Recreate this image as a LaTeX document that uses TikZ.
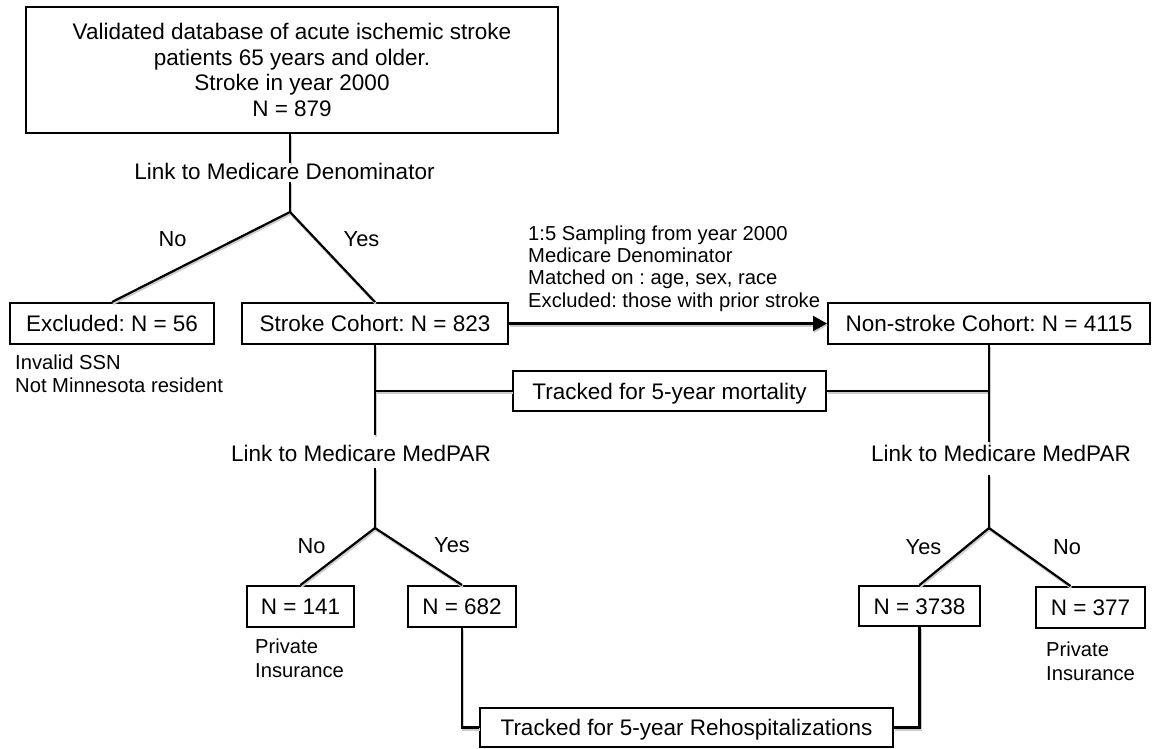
\documentclass[tikz,border=0pt]{standalone}
\usepackage{fontspec}
\setmainfont{Liberation Sans}
\usetikzlibrary{arrows.meta}
\frenchspacing
\begin{document}
\begin{tikzpicture}[x=1pt,y=-1pt,
  box/.style={draw, line width=2pt, inner sep=0pt, font=\fontsize{22.5}{25.7}\selectfont, align=center},
  sbox/.style={box, text height=16pt, text depth=0pt},
  lbl/.style={inner sep=0pt, font=\fontsize{22.5}{25.7}\selectfont},
  yn/.style={inner sep=0pt, font=\fontsize{21.8}{24}\selectfont},
  note/.style={inner sep=0pt, anchor=west, align=left},
  conn/.style={line width=2.2pt, preaction={draw=black!20, line width=2.4pt, transform canvas={shift={(0.8pt,-1.8pt)}}}},
]
\useasboundingbox (0,0) rectangle (1152,749);

% boxes
\node[box, minimum width=532pt, minimum height=126pt] (top) at (292,70)
  {Validated database of acute ischemic stroke\\patients 65 years and older.\\Stroke in year 2000\\N = 879};
\node[sbox, minimum width=204pt, minimum height=41pt] (exc) at (112,323.5) {Excluded: N = 56};
\node[sbox, minimum width=266pt, minimum height=41pt] (stroke) at (375,323.5) {Stroke Cohort: N = 823};
\node[sbox, minimum width=322pt, minimum height=41pt] (nonstroke) at (989,323.5) {Non-stroke Cohort: N = 4115};
\node[sbox, minimum width=313pt, minimum height=40pt] (mort) at (669.5,391) {Tracked for 5-year mortality};
\node[sbox, minimum width=107pt, minimum height=41pt] (n141) at (300.5,606.5) {N = 141};
\node[sbox, minimum width=108pt, minimum height=41pt] (n682) at (462,606.5) {N = 682};
\node[sbox, minimum width=121pt, minimum height=40pt] (n3738) at (919.5,606) {N = 3738};
\node[sbox, minimum width=109pt, minimum height=41pt] (n377) at (1090.5,607.5) {N = 377};
\node[sbox, minimum width=413pt, minimum height=39pt] (rehosp) at (686.5,727.5) {Tracked for 5-year Rehospitalizations};

% labels
\node[lbl] (den) at (284.5,171) {Link to Medicare Denominator};
\node[lbl] (mp1) at (361,453) {Link to Medicare MedPAR};
\node[lbl] (mp2) at (1001,453) {Link to Medicare MedPAR};
\node[yn] (no1) at (172.5,239) {No};
\node[yn] (yes1) at (361.5,239) {Yes};
\node[yn] (no2) at (311.5,546) {No};
\node[yn] (yes2) at (452,545) {Yes};
\node[yn] (yes3) at (923.5,547) {Yes};
\node[yn] (no3) at (1067,547) {No};

% notes
\node[note, font=\fontsize{20.2}{22.4}\selectfont] (samp) at (528,268.5)
  {1:5 Sampling from year 2000\\Medicare Denominator\\Matched on : age, sex, race\\Excluded: those with prior stroke};
\node[note, font=\fontsize{20.2}{23}\selectfont] (excnote) at (15,373.5) {Invalid SSN\\Not Minnesota resident};
\node[note, font=\fontsize{20.2}{24}\selectfont] (pi1) at (255,658) {Private\\Insurance};
\node[note, font=\fontsize{20.2}{24}\selectfont] (pi2) at (1046,661.5) {Private\\Insurance};

% junctions and gap ends
\coordinate (j1) at (290,212);
\coordinate (g1a) at (290,163);
\coordinate (g1b) at (290,182);
\coordinate (g2a) at (375,435);
\coordinate (g2b) at (375,468);
\coordinate (j2) at (375,528);
\coordinate (g3a) at (989,442);
\coordinate (g3b) at (989,475);
\coordinate (j3) at (989,528);

% connectors
\draw[conn] (top.south -| j1) -- (g1a);
\draw[conn] (g1b) -- (j1);
\draw[conn] (exc.north) -- (j1) -- (stroke.north);
\draw[conn, -{Triangle[length=14pt,width=15pt]}] (stroke) -- (nonstroke);
\draw[conn] (stroke.south) -- (g2a);
\draw[conn] (g2b) -- (j2);
\draw[conn] (mort.west) -- (mort.west -| stroke.south);
\draw[conn] (mort.east) -- (mort.east -| nonstroke.south);
\draw[conn] (nonstroke.south) -- (g3a);
\draw[conn] (g3b) -- (j3);
\draw[conn] (n141.north) -- (j2) -- (n682.north);
\draw[conn] (n3738.north) -- (j3) -- ([xshift=-20pt]n377.north);
\draw[conn] (n682.south) |- (rehosp.west);
\draw[conn] (n3738.south) |- (rehosp.east);
\end{tikzpicture}
\end{document}
